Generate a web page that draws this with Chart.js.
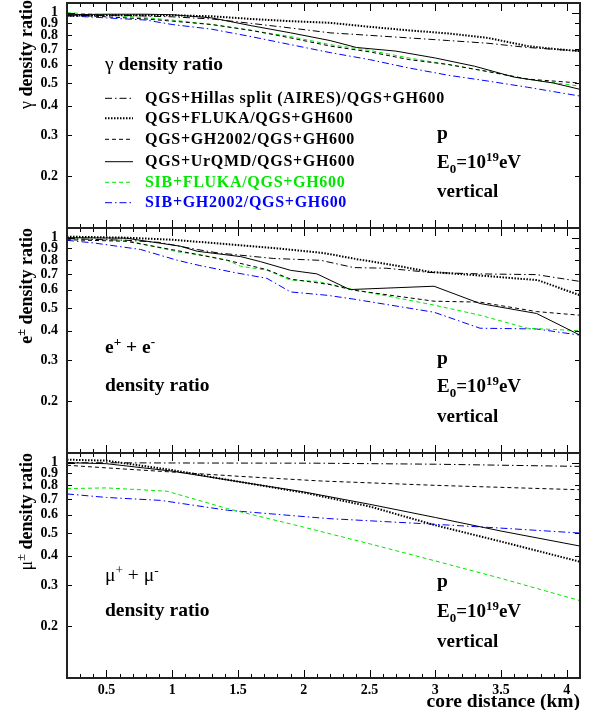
<!DOCTYPE html>
<html>
<head>
<meta charset="utf-8">
<script src="https://cdn.jsdelivr.net/npm/chart.js@4.4.0/dist/chart.umd.min.js"></script>
<style>
  html, body { margin: 0; padding: 0; background: #fff; }
  #wrap { position: relative; width: 590px; height: 710px; overflow: hidden;
          font-family: "Liberation Serif", "DejaVu Serif", serif; font-weight: bold; color: #000; }
  #wrap canvas { position: absolute; left: 0; top: 0; }
  .txt { position: absolute; white-space: nowrap; line-height: 1; z-index: 5; }
  .ytitle { position: absolute; white-space: nowrap; line-height: 1; font-size: 18px; z-index: 5;
            transform-origin: top right; transform: rotate(-90deg); }
  .sym { font-weight: normal; }
  .leg { font-size: 16px; letter-spacing: 0.7px; }
  .big { font-size: 19.5px; }
  .mid { font-size: 19px; }
  sup, sub { font-size: 68%; line-height: 0; }
  #legLines { position: absolute; left: 0; top: 0; z-index: 4; }
</style>
</head>
<body>
<div id="wrap">
  <canvas id="c1" width="590" height="710"></canvas>
  <canvas id="c2" width="590" height="710"></canvas>
  <canvas id="c3" width="590" height="710"></canvas>
  <svg id="legLines" width="590" height="710"></svg>

  <!-- axis titles -->
  <div class="ytitle" style="right:573px; top:0px;"><span class="sym">&gamma;</span> density ratio</div>
  <div class="ytitle" style="right:573px; top:228px;">e<sup>&plusmn;</sup> density ratio</div>
  <div class="ytitle" style="right:573px; top:453px;"><span class="sym">&mu;<sup>&plusmn;</sup></span> density ratio</div>

  <!-- panel 1 -->
  <div class="txt big" style="left:105px; top:54px;"><span class="sym">&gamma;</span> density ratio</div>
  <div id="legend"></div>
  <div class="txt big" style="left:437px; top:123px;">p</div>
  <div class="txt mid" style="left:437px; top:152px;">E<sub>0</sub>=10<sup>19</sup>eV</div>
  <div class="txt mid" style="left:437px; top:181px;">vertical</div>

  <!-- panel 2 -->
  <div class="txt big" style="left:105px; top:337px;">e<sup>+</sup> + e<sup>-</sup></div>
  <div class="txt big" style="left:105px; top:375px;">density ratio</div>
  <div class="txt big" style="left:437px; top:348px;">p</div>
  <div class="txt mid" style="left:437px; top:376px;">E<sub>0</sub>=10<sup>19</sup>eV</div>
  <div class="txt mid" style="left:437px; top:406px;">vertical</div>

  <!-- panel 3 -->
  <div class="txt big sym" style="left:105px; top:565px;">&mu;<sup>+</sup> + &mu;<sup>-</sup></div>
  <div class="txt big" style="left:105px; top:600px;">density ratio</div>
  <div class="txt big" style="left:437px; top:571px;">p</div>
  <div class="txt mid" style="left:437px; top:601px;">E<sub>0</sub>=10<sup>19</sup>eV</div>
  <div class="txt mid" style="left:437px; top:631px;">vertical</div>
</div>

<script>
// axis ticks
const xTickValues = [0.5, 1, 1.5, 2, 2.5, 3, 3.5, 4];
const yTickValues = [0.2, 0.3, 0.4, 0.5, 0.6, 0.7, 0.8, 0.9, 1];

const seriesLabels = [
  'QGS+Hillas split (AIRES)/QGS+GH600',
  'QGS+FLUKA/QGS+GH600',
  'QGS+GH2002/QGS+GH600',
  'QGS+UrQMD/QGS+GH600',
  'SIB+FLUKA/QGS+GH600',
  'SIB+GH2002/QGS+GH600'
];

// gamma panel
const gHillasX = [0.2, 0.6, 1.0, 1.3, 1.6, 1.9, 2.2, 2.5, 2.8, 3.1, 3.4, 3.7, 4.1];
const gHillasY = [0.97, 0.975, 0.96, 0.94, 0.90, 0.86, 0.82, 0.80, 0.78, 0.76, 0.74, 0.71, 0.685];
const gFlukaX = [0.2, 0.5, 1.0, 1.3, 1.6, 1.9, 2.2, 2.5, 2.8, 3.1, 3.4, 3.7, 3.9, 4.1];
const gFlukaY = [0.97, 0.975, 0.975, 0.965, 0.94, 0.92, 0.905, 0.87, 0.84, 0.815, 0.78, 0.72, 0.70, 0.685];
const gGh2002X = [0.2, 0.5, 0.8, 1.0, 1.3, 1.6, 1.9, 2.2, 2.5, 2.8, 3.1, 3.4, 3.7, 4.1];
const gGh2002Y = [0.98, 0.96, 0.94, 0.92, 0.89, 0.84, 0.78, 0.72, 0.68, 0.63, 0.60, 0.56, 0.52, 0.50];
const gUrqmdX = [0.2, 0.5, 0.8, 1.0, 1.3, 1.6, 1.9, 2.2, 2.4, 2.7, 3.0, 3.3, 3.6, 3.9, 4.1];
const gUrqmdY = [0.98, 0.985, 0.985, 0.98, 0.95, 0.88, 0.82, 0.76, 0.71, 0.685, 0.64, 0.59, 0.53, 0.50, 0.47];
const gSibFlukaX = [0.2, 0.5, 0.8, 1.0, 1.3, 1.6, 1.9, 2.2, 2.5, 2.8, 3.1, 3.4, 3.7, 4.1];
const gSibFlukaY = [1.0, 0.98, 0.95, 0.93, 0.89, 0.84, 0.79, 0.73, 0.69, 0.64, 0.60, 0.56, 0.52, 0.485];
const gSibGhX = [0.2, 0.5, 0.8, 1.0, 1.3, 1.6, 1.9, 2.2, 2.5, 2.8, 3.1, 3.4, 3.7, 4.1];
const gSibGhY = [0.97, 0.95, 0.93, 0.89, 0.85, 0.79, 0.73, 0.675, 0.63, 0.58, 0.54, 0.51, 0.48, 0.44];

// e+e- panel
const eHillasX = [0.2, 0.65, 0.9, 1.19, 1.35, 1.77, 2.13, 2.38, 2.63, 2.96, 3.34, 3.77, 4.1];
const eHillasY = [0.99, 0.975, 0.955, 0.89, 0.86, 0.815, 0.80, 0.745, 0.74, 0.71, 0.70, 0.695, 0.65];
const eFlukaX = [0.2, 0.65, 1.0, 1.4, 1.8, 2.15, 2.4, 2.7, 2.96, 3.4, 3.78, 4.1];
const eFlukaY = [1.01, 1.0, 0.98, 0.94, 0.90, 0.86, 0.81, 0.76, 0.714, 0.685, 0.658, 0.567];
const eGh2002X = [0.2, 0.65, 1.04, 1.42, 1.72, 1.9, 2.2, 2.38, 2.99, 3.34, 3.77, 4.1];
const eGh2002Y = [0.98, 0.965, 0.88, 0.80, 0.73, 0.665, 0.63, 0.596, 0.535, 0.53, 0.483, 0.466];
const eUrqmdX = [0.2, 0.65, 1.06, 1.19, 1.52, 1.67, 1.9, 2.1, 2.35, 2.99, 3.34, 3.77, 4.1];
const eUrqmdY = [1.0, 0.995, 0.92, 0.875, 0.83, 0.79, 0.725, 0.70, 0.60, 0.62, 0.523, 0.474, 0.383];
const eSibFlukaX = [0.2, 0.65, 1.04, 1.24, 1.42, 1.52, 1.72, 1.9, 2.1, 2.38, 2.99, 3.34, 3.7, 4.1];
const eSibFlukaY = [0.99, 0.975, 0.87, 0.84, 0.80, 0.755, 0.726, 0.658, 0.651, 0.60, 0.515, 0.466, 0.41, 0.40];
const eSibGhX = [0.2, 0.4, 0.76, 1.04, 1.21, 1.47, 1.72, 1.9, 2.18, 2.38, 2.99, 3.34, 3.77, 4.1];
const eSibGhY = [0.974, 0.95, 0.89, 0.80, 0.76, 0.71, 0.67, 0.586, 0.567, 0.546, 0.48, 0.41, 0.407, 0.383];

// mu+mu- panel
const mHillasX = [0.2, 1.0, 2.1, 3.0, 4.1];
const mHillasY = [1.0, 0.997, 0.995, 0.985, 0.964];
const mFlukaX = [0.2, 0.5, 1.0, 1.5, 2.0, 2.5, 3.0, 3.5, 4.1];
const mFlukaY = [1.03, 1.02, 0.93, 0.83, 0.745, 0.65, 0.54, 0.46, 0.377];
const mGh2002X = [0.2, 0.5, 0.96, 1.5, 2.13, 3.0, 4.1];
const mGh2002Y = [0.975, 0.95, 0.915, 0.875, 0.835, 0.80, 0.766];
const mUrqmdX = [0.2, 0.5, 1.0, 1.5, 2.0, 2.5, 3.0, 3.5, 4.1];
const mUrqmdY = [1.0, 0.99, 0.92, 0.83, 0.75, 0.664, 0.583, 0.51, 0.44];
const mSibFlukaX = [0.2, 0.5, 0.96, 1.42, 2.0, 2.5, 3.0, 3.5, 4.1];
const mSibFlukaY = [0.775, 0.78, 0.755, 0.636, 0.53, 0.45, 0.38, 0.32, 0.257];
const mSibGhX = [0.2, 0.5, 0.91, 1.42, 2.18, 3.0, 3.5, 4.1];
const mSibGhY = [0.735, 0.71, 0.69, 0.626, 0.577, 0.545, 0.525, 0.50];

const GREEN = '#00e600';
const BLUE = '#0000ff';
const styles = [
  { color: '#000', width: 1, dash: [7, 3, 1.5, 3] },   // Hillas
  { color: '#000', width: 2, dash: [1.5, 1.5] },       // FLUKA
  { color: '#000', width: 1, dash: [4, 3] },           // GH2002
  { color: '#000', width: 1, dash: [] },               // UrQMD
  { color: GREEN, width: 1, dash: [4, 3] },            // SIB+FLUKA
  { color: BLUE, width: 1, dash: [7, 3, 1.5, 3] }      // SIB+GH2002
];

const FONT = '"Liberation Serif", "DejaVu Serif", serif';

function pts(xs, ys) {
  return xs.map((x, i) => ({ x: x, y: ys[i] }));
}

// frame plus inward ticks on all four sides
const frameTicks = {
  id: 'frameTicks',
  afterDatasetsDraw(chart) {
    const { ctx, chartArea: a, scales: { x, y } } = chart;
    ctx.save();
    ctx.strokeStyle = '#000';
    ctx.lineWidth = 1;
    ctx.beginPath();
    for (let k = 2; k <= 41; k++) {
      const px = Math.round(x.getPixelForValue(k / 10)) + 0.5;
      const L = k % 5 === 0 ? 8 : 4;
      ctx.moveTo(px, a.bottom); ctx.lineTo(px, a.bottom - L);
      ctx.moveTo(px, a.top); ctx.lineTo(px, a.top + L);
    }
    yTickValues.forEach(v => {
      const py = Math.round(y.getPixelForValue(v)) + 0.5;
      const L = v === 1 ? 8 : 5;
      ctx.moveTo(a.left, py); ctx.lineTo(a.left + L, py);
      ctx.moveTo(a.right, py); ctx.lineTo(a.right - L, py);
    });
    ctx.stroke();
    ctx.lineWidth = 2;
    ctx.strokeStyle = '#222';
    ctx.strokeRect(a.left, a.top, a.right - a.left, a.bottom - a.top);
    ctx.restore();
  }
};

function makePanel(id, top, bottom, series, showX) {
  const datasets = series.map((s, i) => ({
    data: pts(s[0], s[1]),
    borderColor: styles[i].color,
    borderWidth: styles[i].width,
    borderDash: styles[i].dash,
    pointRadius: 0,
    fill: false,
    tension: 0
  }));
  const xScale = {
    type: 'linear', min: 0.2, max: 4.1, display: showX,
    grid: { display: false, drawTicks: false }, border: { display: false },
    afterBuildTicks: s => { s.ticks = xTickValues.map(v => ({ value: v })); },
    afterFit: s => {
      if (showX) s.height = 710 - bottom;
      s.paddingLeft = 0; s.paddingRight = 0;
    },
    ticks: { font: { family: FONT, size: 14, weight: 'bold' }, color: '#000', padding: 4,
             maxRotation: 0, autoSkip: false, callback: v => String(v) },
    title: { display: true, text: 'core distance (km)', align: 'end', color: '#000',
             padding: { top: 0, bottom: -2 },
             font: { family: FONT, size: 19.5, weight: 'bold', lineHeight: 1 } }
  };
  return new Chart(document.getElementById(id), {
    type: 'line',
    data: { datasets },
    options: {
      responsive: false,
      animation: false,
      events: [],
      layout: { padding: { top: top, bottom: showX ? 0 : 710 - bottom, left: 0, right: 10 } },
      plugins: { legend: { display: false }, tooltip: { enabled: false } },
      scales: {
        x: xScale,
        y: {
          type: 'logarithmic', min: 0.12, max: 1.1,
          grid: { display: false, drawTicks: false }, border: { display: false },
          afterBuildTicks: s => { s.ticks = yTickValues.map(v => ({ value: v })); },
          afterFit: s => { s.width = 67; s.paddingTop = 0; s.paddingBottom = 0; },
          ticks: { font: { family: FONT, size: 14, weight: 'bold' }, color: '#000', padding: 9,
                   autoSkip: false, callback: v => String(v) }
        }
      }
    },
    plugins: [frameTicks]
  });
}

makePanel('c1', 3, 228, [
  [gHillasX, gHillasY], [gFlukaX, gFlukaY], [gGh2002X, gGh2002Y],
  [gUrqmdX, gUrqmdY], [gSibFlukaX, gSibFlukaY], [gSibGhX, gSibGhY]
], false);
makePanel('c2', 228, 453, [
  [eHillasX, eHillasY], [eFlukaX, eFlukaY], [eGh2002X, eGh2002Y],
  [eUrqmdX, eUrqmdY], [eSibFlukaX, eSibFlukaY], [eSibGhX, eSibGhY]
], false);
makePanel('c3', 453, 678, [
  [mHillasX, mHillasY], [mFlukaX, mFlukaY], [mGh2002X, mGh2002Y],
  [mUrqmdX, mUrqmdY], [mSibFlukaX, mSibFlukaY], [mSibGhX, mSibGhY]
], true);

// legend: sample lines in svg, labels as html text
const legendRowY = [98.3, 118.3, 139.3, 161.7, 182.3, 202.7];
const svg = document.getElementById('legLines');
const legend = document.getElementById('legend');
seriesLabels.forEach((label, i) => {
  const st = styles[i];
  const ln = document.createElementNS('http://www.w3.org/2000/svg', 'line');
  ln.setAttribute('x1', 105); ln.setAttribute('x2', 133);
  ln.setAttribute('y1', legendRowY[i]); ln.setAttribute('y2', legendRowY[i]);
  ln.setAttribute('stroke', st.color);
  ln.setAttribute('stroke-width', st.width);
  if (st.dash.length) ln.setAttribute('stroke-dasharray', st.dash.join(' '));
  svg.appendChild(ln);
  const d = document.createElement('div');
  d.className = 'txt leg';
  d.style.left = '145px';
  d.style.top = (legendRowY[i] + 5 - 13.4) + 'px';
  d.style.color = i === 4 ? GREEN : (i === 5 ? BLUE : '#000');
  d.textContent = label;
  legend.appendChild(d);
});
</script>
</body>
</html>
